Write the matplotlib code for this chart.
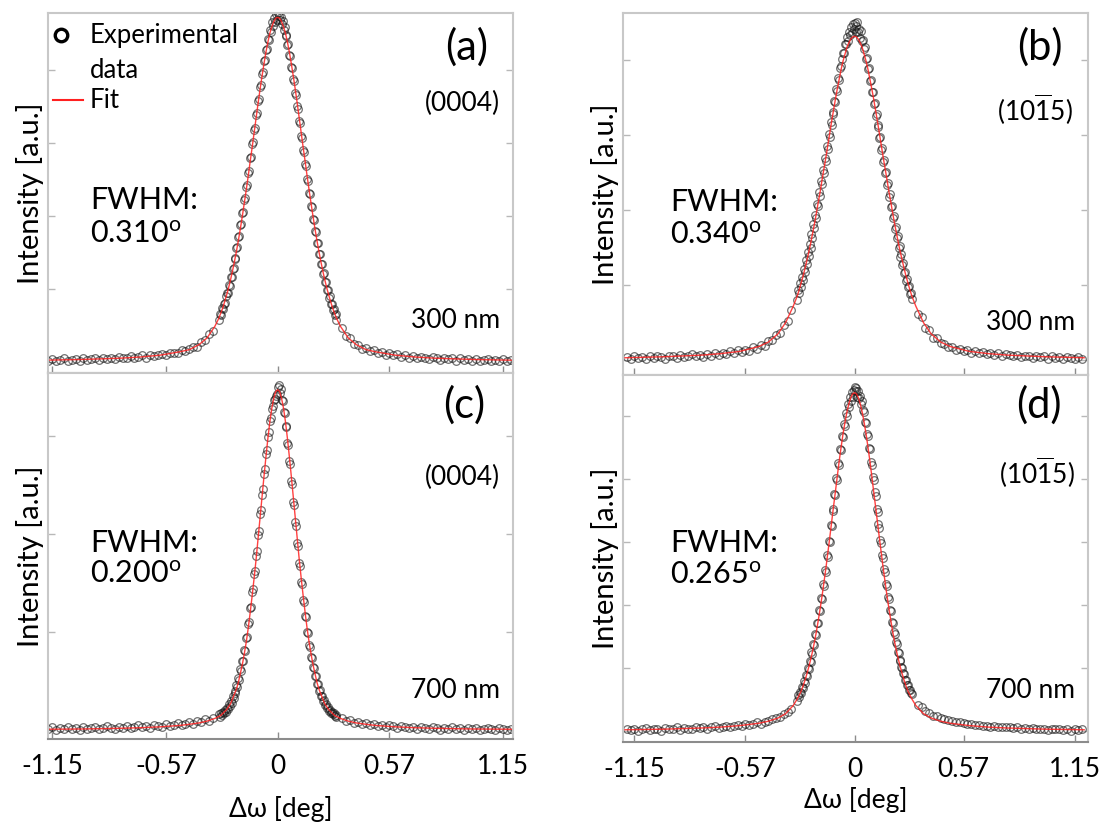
import numpy as np
import matplotlib.pyplot as plt

plt.rcParams['font.family'] = ['Lato', 'DejaVu Sans']
plt.rcParams['mathtext.fontset'] = 'custom'
plt.rcParams['mathtext.rm'] = 'Lato'
plt.rcParams['mathtext.it'] = 'Lato:italic'

## scan positions [deg]: coarse tails, fine steps around the peak
omega = np.concatenate([np.round(np.arange(-1.19, -0.32, 0.02), 3),
                        np.round(np.arange(-0.300, 0.3001, 0.005), 3),
                        np.round(np.arange(0.33, 1.20, 0.02), 3)])

fit_x = np.array([-1.2, -1.0, -0.8, -0.7, -0.6, -0.5, -0.45, -0.4, -0.36, -0.32]
                 + list(np.round(np.arange(-0.30, 0.3001, 0.01), 2))
                 + [0.32, 0.36, 0.4, 0.45, 0.5, 0.6, 0.7, 0.8, 1.0, 1.2])

## measured intensities (x100, units of one y tick)
data_a = np.array([
    2, 1, 4, 2, 3, 5, 2, 3, 4, 2, 5, 3, 4, 6, 3, 5, 4, 6, 4, 7, 5, 6, 8, 5, 7, 9, 6, 9, 8, 10, 11, 9,
    12, 13, 12, 16, 15, 18, 20, 21, 27, 30, 38, 43,
    57, 66, 64, 74, 72, 80, 81, 90, 95, 94, 105, 104, 116, 117, 128, 129, 141, 143, 156, 157,
    171, 172, 187, 189, 204, 206, 222, 224, 240, 242, 259, 262, 279, 281, 298, 301, 318, 320, 339, 341,
    358, 360, 377, 379, 395, 397, 412, 414, 428, 429, 442, 441, 455, 452, 465, 460, 471, 466, 476, 469,
    478,
    474, 468, 472, 463, 467, 455, 459, 446, 448, 434, 435, 420, 419, 404, 403, 387, 385, 369, 366, 350,
    347, 330, 327, 310, 307, 290, 287, 271, 268, 251, 248, 232, 230, 214, 212, 196, 194, 179, 178, 163,
    163, 148, 148, 134, 134, 121, 122, 109, 110, 98, 99, 88, 90, 79, 80, 71, 73, 64, 66, 58,
    46, 35, 33, 25, 24, 18, 19, 15, 16, 12, 14, 10, 12, 9, 11, 7, 9, 6, 8, 5, 7, 6, 4, 7, 5, 3, 6, 4,
    5, 2, 5, 3, 4, 2, 4, 1, 3, 4, 2, 3, 1, 4, 2, 3])

data_b = np.array([
    4, 2, 5, 3, 4, 1, 5, 3, 6, 4, 2, 6, 5, 3, 7, 4, 6, 8, 5, 7, 4, 8, 6, 9, 7, 10, 8, 12, 9, 13, 11,
    14, 12, 17, 15, 20, 19, 26, 27, 34, 36, 47, 52, 67,
    80, 93, 89, 103, 98, 111, 107, 121, 117, 133, 128, 144, 139, 155, 150, 168, 163, 181, 176, 194,
    190, 208, 205, 224, 219, 239, 235, 253, 250, 270, 265, 286, 281, 301, 297, 317, 313, 331, 328, 346,
    344, 362, 359, 376, 374, 390, 392, 401, 409, 409, 422, 421, 431, 426, 437, 433, 444, 436, 448, 441,
    450,
    446, 438, 451, 437, 442, 430, 439, 425, 427, 415, 418, 402, 403, 388, 389, 372, 373, 357, 358, 341,
    343, 326, 328, 311, 313, 296, 297, 280, 283, 264, 267, 249, 251, 234, 236, 218, 221, 204, 206, 189,
    192, 175, 178, 163, 165, 150, 152, 138, 141, 127, 129, 116, 118, 106, 108, 97, 99, 88, 90, 81,
    62, 57, 43, 40, 30, 29, 23, 22, 18, 18, 14, 15, 12, 13, 10, 12, 9, 11, 8, 10, 7, 9, 6, 8, 7, 5,
    7, 4, 6, 5, 3, 6, 4, 5, 2, 5, 3, 4, 2, 4, 3, 1, 4, 2])

data_c = np.array([
    2, 1, 3, 0, 2, 1, 3, 1, 2, 0, 3, 1, 2, 3, 1, 2, 4, 2, 1, 3, 2, 4, 2, 3, 5, 3, 4, 2, 5, 4, 3, 6,
    4, 5, 7, 5, 6, 8, 6, 9, 8, 11, 9, 12,
    16, 13, 17, 15, 19, 17, 21, 19, 23, 22, 27, 25, 30, 28, 35, 33, 40, 38, 46, 44,
    53, 51, 62, 60, 71, 70, 82, 81, 94, 95, 108, 110, 124, 126, 141, 144, 159, 162, 178, 183,
    199, 203, 220, 224, 240, 246, 261, 266, 281, 286, 299, 304, 315, 318, 327, 330, 336, 338, 341, 343,
    350,
    352, 344, 348, 336, 335, 324, 323, 310, 309, 293, 291, 274, 271, 254, 251, 233, 229, 212, 208, 191,
    188, 170, 167, 151, 149, 133, 131, 116, 115, 100, 99, 87, 85, 75, 74, 64, 63, 55, 55, 47,
    47, 40, 41, 35, 35, 30, 31, 26, 27, 23, 24, 20, 21, 18, 19, 16, 17, 14, 15, 13,
    12, 9, 10, 7, 8, 6, 7, 5, 6, 4, 5, 3, 5, 4, 2, 4, 3, 2, 3, 1, 3, 2, 1, 3, 2, 0, 2, 1, 3, 1, 2, 0,
    2, 1, 2, 0, 1, 2, 1, 0, 2, 1, 0, 1])

data_d = np.array([
    3, 2, 4, 1, 3, 5, 2, 4, 3, 1, 5, 3, 4, 6, 2, 5, 4, 3, 6, 5, 7, 4, 6, 8, 5, 7, 9, 6, 8, 10, 9,
    11, 10, 12, 14, 12, 15, 17, 19, 21, 22, 27, 30, 36,
    48, 57, 55, 63, 60, 70, 68, 79, 77, 89, 87, 100, 98, 112, 110, 125, 122, 139, 137, 155,
    153, 172, 171, 192, 190, 211, 209, 233, 231, 255, 253, 279, 277, 302, 300, 327, 325, 352, 350, 377,
    375, 401, 399, 425, 423, 448, 446, 469, 466, 488, 484, 505, 500, 519, 514, 530, 524, 538, 530, 542,
    546,
    540, 544, 530, 540, 528, 532, 519, 524, 510, 506, 490, 489, 471, 469, 450, 448, 427, 423, 403, 398,
    380, 373, 353, 348, 328, 323, 304, 299, 280, 275, 257, 252, 234, 230, 213, 209, 193, 190, 174, 171,
    157, 154, 141, 138, 126, 124, 113, 112, 102, 101, 92, 91, 82, 82, 73, 73, 66, 66, 60, 59,
    42, 38, 32, 29, 25, 24, 21, 20, 18, 17, 15, 15, 13, 12, 12, 10, 10, 9, 9, 7, 8, 6, 7, 6, 7, 5,
    6, 4, 5, 4, 5, 3, 4, 3, 2, 4, 3, 3, 2, 3, 1, 3, 2, 3])

## fitted curves (x100)
fit_a = np.array([
    2.5, 3.5, 5.3, 6.9, 9.4, 14, 17, 24, 33, 49,
    60, 67, 74, 83, 92, 102, 113, 125, 138, 152, 167, 183, 200, 218, 236, 255, 275, 294, 314, 334,
    354, 373, 391, 408, 424, 438, 450, 459, 466, 471, 472, 471, 466, 459, 450, 438, 424, 408, 391, 373,
    354, 334, 314, 294, 275, 255, 236, 218, 200, 183, 167, 152, 138, 125, 113, 102, 92, 83, 74, 67, 60,
    49, 33, 24, 17, 14, 9.4, 6.9, 5.3, 3.5, 2.5])

fit_b = np.array([
    3.0, 4.3, 6.5, 8.5, 11.5, 18, 24, 35, 50, 72,
    85, 93, 102, 111, 121, 132, 143, 155, 168, 181, 195, 210, 224, 240, 255, 270, 286, 302, 318, 333,
    348, 362, 375, 388, 399, 408, 417, 423, 428, 431, 432, 431, 428, 423, 417, 408, 399, 388, 375, 362,
    348, 333, 318, 302, 286, 270, 255, 240, 224, 210, 195, 181, 168, 155, 143, 132, 121, 111, 102, 93, 85,
    72, 50, 35, 24, 18, 11.5, 8.5, 6.5, 4.3, 3.0])

fit_c = np.array([
    0.9, 1.2, 1.9, 2.5, 3.4, 4.8, 6, 7.4, 9.2, 12,
    14, 15, 17, 19, 21, 24, 27, 32, 37, 42, 49, 58, 67, 78, 90, 104, 120, 137, 155, 174,
    195, 216, 237, 258, 278, 297, 314, 328, 338, 345, 347, 345, 338, 328, 314, 297, 278, 258, 237, 216,
    195, 174, 155, 137, 120, 104, 90, 78, 67, 58, 49, 42, 37, 32, 27, 24, 21, 19, 17, 15, 14,
    12, 9.2, 7.4, 6, 4.8, 3.4, 2.5, 1.9, 1.2, 0.9])

fit_d = np.array([
    2.4, 3.3, 5.2, 6.6, 9, 12.7, 16, 21, 28, 41,
    51, 57, 63, 71, 80, 90, 101, 113, 126, 141, 157, 175, 194, 214, 236, 258, 282, 306, 331, 356,
    380, 405, 429, 451, 472, 490, 506, 519, 529, 535, 537, 535, 529, 519, 506, 490, 472, 451, 429, 405,
    380, 356, 331, 306, 282, 258, 236, 214, 194, 175, 157, 141, 126, 113, 101, 90, 80, 71, 63, 57, 51,
    41, 28, 21, 16, 12.7, 9, 6.6, 5.2, 3.3, 2.4])

for arr in (data_a, data_b, data_c, data_d):
    assert len(arr) == len(omega), len(arr)
for arr in (fit_a, fit_b, fit_c, fit_d):
    assert len(arr) == len(fit_x), len(arr)

xticks = [-1.15, -0.57, 0, 0.57, 1.15]
xtick_labels = ['-1.15', '-0.57', '0', '0.57', '1.15']

W, H = 1120, 823
fig = plt.figure(figsize=(W / 100, H / 100), dpi=100)


def rect(x0, y0, x1, y1):
    return [x0 / W, 1 - y1 / H, (x1 - x0) / W, (y1 - y0) / H]


def panel(r, data, fit, ylim, ntick, xlim, bottom, xlab_y):
    ax = fig.add_axes(r)
    ax.plot(omega, data / 100, ls='none', marker='o', ms=5.5, mfc='none',
            mec='#141414', mew=0.9, alpha=0.6)
    ax.plot(fit_x, fit / 100, color='#ff2020', lw=1.0, alpha=0.85)
    ax.set_xlim(xlim)
    ax.set_ylim(ylim)
    ax.set_yticks(range(ntick + 1))
    ax.tick_params(axis='y', direction='in', length=5, width=1, color='#b8b8b8',
                   left=True, right=True, labelleft=False)
    ax.set_xticks(xticks)
    ax.tick_params(axis='x', direction='in', length=5, width=1, color='#8c8c8c',
                   labelsize=19, pad=11)
    if bottom:
        ax.set_xticklabels(xtick_labels)
        ax.set_xlabel('Δω [deg]', fontsize=19, va='center')
        ax.xaxis.set_label_coords(0.5, xlab_y)
    else:
        ax.tick_params(axis='x', labelbottom=False)
    for s in ('left', 'right', 'top'):
        ax.spines[s].set_color('#c8c8c8')
        ax.spines[s].set_linewidth(1.5)
    ax.spines['bottom'].set_color('#8c8c8c')
    ax.spines['bottom'].set_linewidth(1.5)
    ax.set_ylabel('Intensity [a.u.]', fontsize=21, va='center')
    ax.yaxis.set_label_coords(-0.039, 0.5)
    return ax


ax_a = panel(rect(48, 13, 513, 373), data_a, fit_a, (-0.15, 4.78), 4, (-1.171, 1.20), False, 0)
ax_c = panel(rect(48, 373, 513, 739), data_c, fit_c, (-0.09, 3.64), 3, (-1.171, 1.20), True, -0.19)
ax_b = panel(rect(623, 13, 1088, 375), data_b, fit_b, (-0.20, 4.63), 4, (-1.21, 1.22), False, 0)
ax_d = panel(rect(623, 375, 1088, 742), data_d, fit_d, (-0.17, 5.65), 5, (-1.21, 1.22), True, -0.158)


def txt(x, y, s, size=18, ha='left'):
    fig.text(x / W, 1 - y / H, s, fontsize=size, ha=ha, va='center')


# legend of panel (a)
ax_a.plot([(61 - 48) / 465], [(373 - 35) / 360], transform=ax_a.transAxes, marker='o',
          ms=9, mfc='none', mec='black', mew=2.4, clip_on=False)
ax_a.plot([(53 - 48) / 465, (83 - 48) / 465], [(373 - 100) / 360] * 2, transform=ax_a.transAxes,
          color='#ff2020', lw=1.5)
txt(90, 36, 'Experimental', 18.5)
txt(90, 70, 'data', 18.5)
txt(90, 100, 'Fit', 18.5)

txt(488, 47, '(a)', 30, 'right')
txt(500, 103, '(0004)', 19, 'right')
txt(90, 200, 'FWHM:', 22)
txt(90, 234, '0.310$^{\\mathrm{o}}$', 22)
txt(500, 320, '300 nm', 19, 'right')

txt(485, 405, '(c)', 30, 'right')
txt(500, 477, '(0004)', 19, 'right')
txt(90, 543, 'FWHM:', 22)
txt(90, 574, '0.200$^{\\mathrm{o}}$', 22)
txt(500, 690, '700 nm', 19, 'right')

txt(1063, 47, '(b)', 30, 'right')
txt(1073, 110, r'(10$\overline{1}$5)', 19, 'right')
txt(670, 202, 'FWHM:', 22)
txt(670, 235, '0.340$^{\\mathrm{o}}$', 22)
txt(1075, 323, '300 nm', 19, 'right')

txt(1062, 405, '(d)', 30, 'right')
txt(1075, 473, r'(10$\overline{1}$5)', 19, 'right')
txt(670, 543, 'FWHM:', 22)
txt(670, 575, '0.265$^{\\mathrm{o}}$', 22)
txt(1075, 690, '700 nm', 19, 'right')

fig.savefig('out.png', dpi=100)
